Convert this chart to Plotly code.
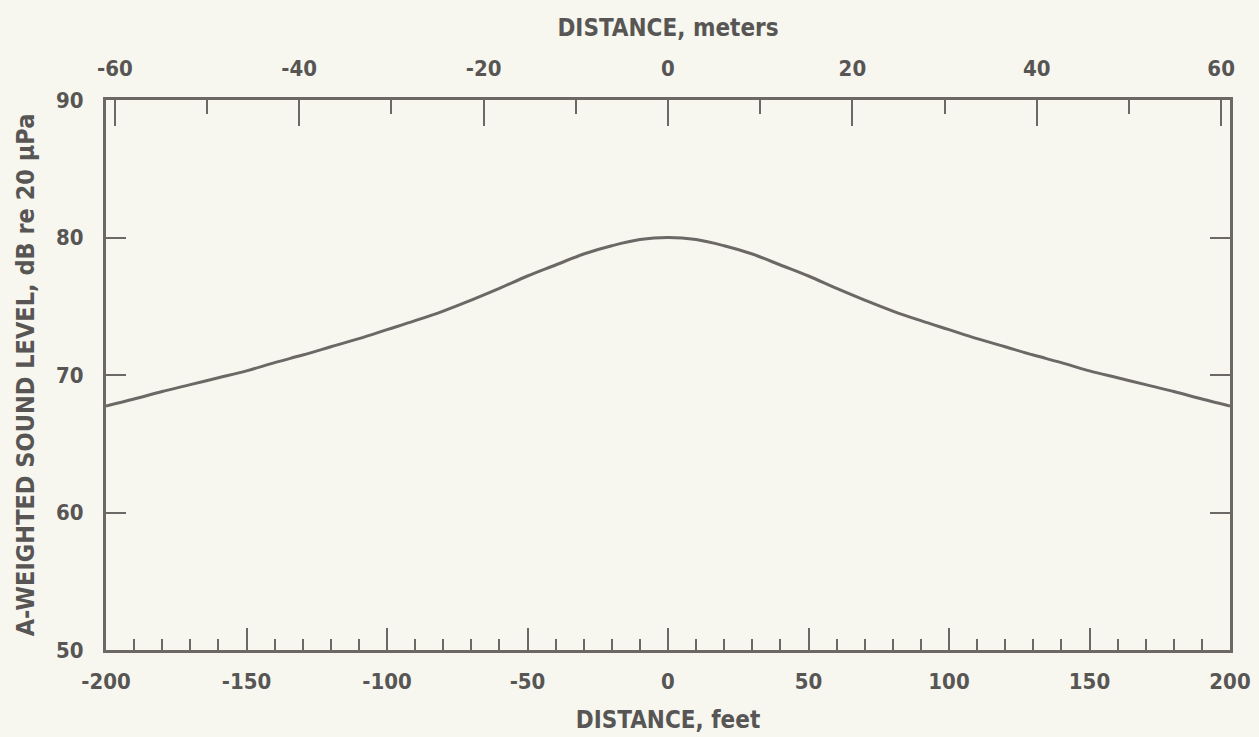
import plotly.graph_objects as go

# Data
distance_ft = [-200, -190, -180, -170, -160, -150, -140, -130, -120, -110, -100,
               -90, -80, -70, -60, -50, -40, -30, -20, -10, 0,
               10, 20, 30, 40, 50, 60, 70, 80, 90, 100,
               110, 120, 130, 140, 150, 160, 170, 180, 190, 200]
level_db = [67.75, 68.25, 68.8, 69.3, 69.8, 70.3, 70.9, 71.45, 72.05, 72.65, 73.3,
            73.95, 74.65, 75.45, 76.3, 77.2, 78.0, 78.8, 79.4, 79.85, 80.0,
            79.85, 79.4, 78.8, 78.0, 77.2, 76.3, 75.45, 74.65, 73.95, 73.3,
            72.65, 72.05, 71.45, 70.9, 70.3, 69.8, 69.3, 68.8, 68.25, 67.75]

feet_ticks = [-200, -150, -100, -50, 0, 50, 100, 150, 200]
feet_labels = ["-200", "-150", "-100", "-50", "0", "50", "100", "150", "200"]
meter_ticks = [-60, -40, -20, 0, 20, 40, 60]
meter_labels = ["-60", "-40", "-20", "0", "20", "40", "60"]
level_ticks = [50, 60, 70, 80, 90]
level_labels = ["50", "60", "70", "80", "90"]

FT_PER_M = 3.2808

FONT = "Liberation Sans Narrow, Arial Narrow, DejaVu Sans Condensed, sans-serif"
INK = "#585654"
LINE = "#6b6866"
BG = "#f7f7f0"

fig = go.Figure()
fig.add_trace(go.Scatter(x=distance_ft, y=level_db, mode="lines",
                         line=dict(color=LINE, width=3, shape="spline", smoothing=1.0),
                         xaxis="x", yaxis="y", showlegend=False, hoverinfo="skip"))
# invisible trace to activate top axis
fig.add_trace(go.Scatter(x=[meter_ticks[0], meter_ticks[-1]], y=[None, None], mode="lines",
                         xaxis="x2", yaxis="y", showlegend=False, hoverinfo="skip"))

tickfont = dict(family=FONT, size=22, color=INK)
titlefont = dict(family=FONT, size=24, color=INK)
ytitlefont = dict(family=FONT, size=25, color=INK)

bold = lambda labels: ["<b>%s</b>" % t for t in labels]

fig.update_layout(
    width=1259, height=737,
    margin=dict(l=106, r=29, t=100, b=87),
    paper_bgcolor=BG, plot_bgcolor=BG,
    font=dict(family=FONT, color=INK),
    xaxis=dict(range=[-200, 200], tickvals=feet_ticks, ticktext=bold(feet_labels),
               ticks="inside", ticklen=22, tickwidth=2, tickcolor=LINE,
               minor=dict(dtick=10, tick0=0, ticks="inside", ticklen=11, tickwidth=2, tickcolor=LINE),
               showline=True, linewidth=3, linecolor=LINE, showgrid=False, zeroline=False,
               tickfont=tickfont, ticklabelstandoff=10, automargin=False,
               title=dict(text="<b>DISTANCE, feet</b>", font=titlefont, standoff=18)),
    xaxis2=dict(range=[-200 / FT_PER_M, 200 / FT_PER_M], overlaying="x", side="top",
                tickvals=meter_ticks, ticktext=bold(meter_labels),
                ticks="inside", ticklen=26, tickwidth=2, tickcolor=LINE,
                minor=dict(dtick=10, tick0=0, ticks="inside", ticklen=14, tickwidth=2, tickcolor=LINE),
                showline=True, linewidth=3, linecolor=LINE, showgrid=False, zeroline=False,
                tickfont=tickfont, ticklabelstandoff=12, automargin=False,
                title=dict(text="<b>DISTANCE, meters</b>", font=titlefont, standoff=13)),
    yaxis=dict(range=[50, 90], tickvals=level_ticks, ticktext=bold(level_labels),
               ticks="inside", ticklen=20, tickwidth=2, tickcolor=LINE,
               showline=True, linewidth=3, linecolor=LINE, mirror="ticks",
               showgrid=False, zeroline=False, tickfont=tickfont, ticklabelstandoff=15,
               automargin=False,
               title=dict(text="<b>A-WEIGHTED SOUND LEVEL, dB re 20 μPa</b>", font=ytitlefont, standoff=15)),
)

fig.write_html("out.html", config={"displayModeBar": False},
               post_script="document.body.style.margin='0';document.body.style.background='#f7f7f0';")
